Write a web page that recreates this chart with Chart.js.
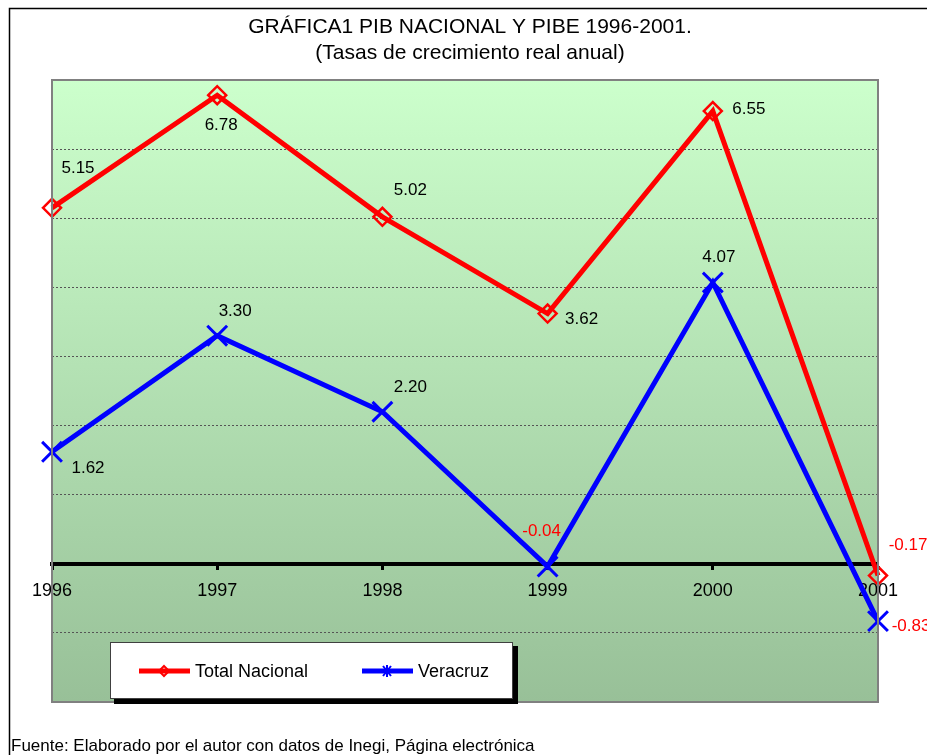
<!DOCTYPE html>
<html>
<head>
<meta charset="utf-8">
<script src="https://cdn.jsdelivr.net/npm/chart.js@4"></script>
<style>
  html, body { margin: 0; padding: 0; background: #fff; }
  #wrap { width: 927px; height: 755px; position: relative; }
</style>
</head>
<body>
<div id="wrap"><canvas id="pibChart" width="927" height="755"></canvas></div>
<script>
const years = ['1996', '1997', '1998', '1999', '2000', '2001'];
const totalNacional = [5.15, 6.78, 5.02, 3.62, 6.55, -0.17];
const veracruz = [1.62, 3.30, 2.20, -0.04, 4.07, -0.83];
const yTicks = [-2, -1, 0, 1, 2, 3, 4, 5, 6, 7];

// where each value label sits relative to its point (px)
const nacLabelShift = [[26, -40], [4, 30], [28, -27], [34, 6], [36, -2], [30, -30]];
const verLabelShift = [[36, 16], [18, -24], [28, -24], [-6, -35], [6, -25], [33, 5]];

const FONT = 'Arial, "Liberation Sans", sans-serif';

const frame = {
  id: 'frame',
  beforeDraw(chart) {
    const { ctx, chartArea: a } = chart;
    ctx.save();
    ctx.fillStyle = '#fff';
    ctx.fillRect(0, 0, chart.width, chart.height);
    const g = ctx.createLinearGradient(0, a.top, 0, a.bottom);
    g.addColorStop(0, 'rgb(204,255,204)');
    g.addColorStop(1, 'rgb(152,192,152)');
    ctx.fillStyle = g;
    ctx.fillRect(a.left, a.top, a.right - a.left, a.bottom - a.top);
    ctx.restore();
  },
  afterDraw(chart) {
    const { ctx, chartArea: a } = chart;
    ctx.save();
    // plot area border
    ctx.strokeStyle = '#808080';
    ctx.lineWidth = 2;
    ctx.strokeRect(a.left, a.top, a.right - a.left, a.bottom - a.top);
    // outer frame
    ctx.strokeStyle = '#000';
    ctx.lineWidth = 1.5;
    ctx.beginPath();
    ctx.moveTo(9.5, chart.height);
    ctx.lineTo(9.5, 8.5);
    ctx.lineTo(chart.width, 8.5);
    ctx.stroke();
    // title
    ctx.fillStyle = '#000';
    ctx.textAlign = 'center';
    ctx.textBaseline = 'middle';
    ctx.font = '21px ' + FONT;
    ctx.fillText('GRÁFICA1 PIB NACIONAL Y PIBE 1996-2001.', 470, 27);
    ctx.fillText('(Tasas de crecimiento real anual)', 470, 53);
    // footer
    ctx.textAlign = 'left';
    ctx.font = '17px ' + FONT;
    ctx.fillText('Fuente: Elaborado por el autor con datos de Inegi, Página electrónica', 11, 746);
    // legend box
    ctx.fillStyle = '#000';
    ctx.fillRect(114, 646, 404, 58);
    ctx.fillStyle = '#fff';
    ctx.fillRect(110, 642, 403, 57);
    ctx.strokeStyle = '#404040';
    ctx.lineWidth = 1;
    ctx.strokeRect(110.5, 642.5, 402, 56);
    const ds = chart.data.datasets;
    const items = [[139, ds[0]], [362, ds[1]]];
    items.forEach(([x, d]) => {
      ctx.strokeStyle = d.borderColor;
      ctx.lineWidth = 5;
      ctx.beginPath();
      ctx.moveTo(x, 671);
      ctx.lineTo(x + 51, 671);
      ctx.stroke();
      ctx.lineWidth = 2;
      ctx.beginPath();
      if (d.pointStyle === 'rectRot') {
        ctx.moveTo(x + 25, 666); ctx.lineTo(x + 30, 671);
        ctx.lineTo(x + 25, 676); ctx.lineTo(x + 20, 671); ctx.closePath();
      } else {
        ctx.moveTo(x + 21, 666); ctx.lineTo(x + 29, 676);
        ctx.moveTo(x + 29, 666); ctx.lineTo(x + 21, 676);
        ctx.moveTo(x + 25, 665); ctx.lineTo(x + 25, 677);
      }
      ctx.stroke();
      ctx.fillStyle = '#000';
      ctx.font = '18px ' + FONT;
      ctx.textAlign = 'left';
      ctx.fillText(d.label, x + 56, 672);
    });
    ctx.restore();
  }
};

const valueLabels = {
  id: 'valueLabels',
  afterDatasetsDraw(chart) {
    const { ctx } = chart;
    const shifts = [nacLabelShift, verLabelShift];
    ctx.save();
    ctx.font = '17px ' + FONT;
    ctx.textAlign = 'center';
    ctx.textBaseline = 'middle';
    chart.data.datasets.forEach((d, i) => {
      chart.getDatasetMeta(i).data.forEach((pt, j) => {
        const v = d.data[j];
        ctx.fillStyle = v < 0 ? '#ff0000' : '#000';
        ctx.fillText(v.toFixed(2), pt.x + shifts[i][j][0], pt.y + shifts[i][j][1]);
      });
    });
    ctx.restore();
  }
};

const ctx = document.getElementById('pibChart').getContext('2d');
new Chart(ctx, {
  type: 'line',
  data: {
    labels: years,
    datasets: [
      {
        label: 'Total Nacional',
        data: totalNacional,
        borderColor: '#ff0000',
        borderWidth: 5,
        pointStyle: 'rectRot',
        pointRadius: 9,
        pointBorderWidth: 2.5,
        pointBorderColor: '#ff0000',
        pointBackgroundColor: 'rgba(0,0,0,0)',
        tension: 0,
        clip: false
      },
      {
        label: 'Veracruz',
        data: veracruz,
        borderColor: '#0000ff',
        borderWidth: 5,
        pointStyle: 'crossRot',
        pointRadius: 14,
        pointBorderWidth: 3,
        pointBorderColor: '#0000ff',
        tension: 0,
        clip: false
      }
    ]
  },
  options: {
    responsive: false,
    animation: false,
    events: [],
    layout: { padding: { left: 52, top: 80, right: 49, bottom: 53 } },
    plugins: { legend: { display: false }, title: { display: false }, tooltip: { enabled: false } },
    scales: {
      x: {
        position: { y: 0 },
        offset: false,
        grid: { drawOnChartArea: false, drawTicks: true, tickLength: 4, tickColor: '#000', tickWidth: 3 },
        border: { display: true, color: '#000', width: 4 },
        ticks: { color: '#000', font: { size: 18, family: FONT }, padding: 12, maxRotation: 0, autoSkip: false }
      },
      y: {
        min: yTicks[0],
        max: yTicks[yTicks.length - 1],
        afterBuildTicks: (axis) => { axis.ticks = yTicks.map(v => ({ value: v })); },
        afterFit: (axis) => { axis.width = 0; },
        ticks: { display: false },
        grid: { drawTicks: false, color: '#555', lineWidth: 1 },
        border: { display: false, dash: [2, 2] }
      }
    }
  },
  plugins: [frame, valueLabels]
});
</script>
</body>
</html>
